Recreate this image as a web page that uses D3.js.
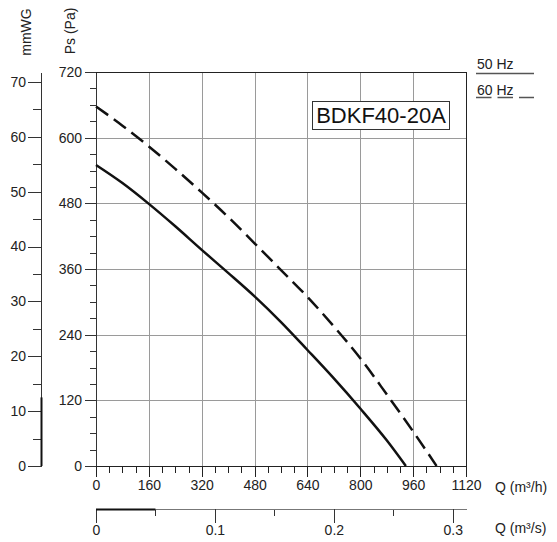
<!DOCTYPE html>
<html>
<head>
<meta charset="utf-8">
<script src="https://cdn.jsdelivr.net/npm/d3@7/dist/d3.min.js"></script>
<style>
  html, body { margin: 0; padding: 0; background: #fff; }
  svg { display: block; font-family: "Liberation Sans", Arial, sans-serif; }
  .tick text { font-family: "Liberation Sans", Arial, sans-serif; }
</style>
</head>
<body>
<svg id="chart" width="557" height="542"></svg>
<script>
// ---------- data ----------
const q50 = [0, 80, 160, 240, 320, 400, 480, 560, 640, 720, 800, 880, 938];
const p50 = [550, 517, 479, 438, 395, 353, 310, 263, 212, 160, 105, 47, 0];
const q60 = [0, 80, 160, 240, 320, 400, 480, 560, 640, 720, 800, 880, 960, 1031];
const p60 = [657, 622, 584, 543, 500, 455, 407, 358, 309, 255, 197, 131, 63, 0];
const qTicks = [0, 160, 320, 480, 640, 800, 960, 1120];
const paTicks = [0, 120, 240, 360, 480, 600, 720];
const mmTicks = [0, 10, 20, 30, 40, 50, 60, 70];
const qsTicks = [0, 0.1, 0.2, 0.3];
const qsMinor = [0.05, 0.15, 0.25];
const modelName = "BDKF40-20A";
const legendLabels = ["50 Hz", "60 Hz"];

// ---------- layout ----------
const svg = d3.select("#chart");
const X0 = 96, X1 = 466, Y0 = 466, Y1 = 72;
const x = d3.scaleLinear().domain([0, 1120]).range([X0, X1]);
const y = d3.scaleLinear().domain([0, 720]).range([Y0, Y1]);
const yMm = d3.scaleLinear().domain([0, 71.8]).range([Y0, Y1]);
const xs = d3.scaleLinear().domain([0, 1120 / 3600]).range([X0, X1]);
const FONT = 14;

// grid
const grid = svg.append("g").attr("shape-rendering", "crispEdges");
grid.selectAll("line.v").data(qTicks.filter(d => d > 0 && d < 1120)).join("line")
  .attr("x1", d => Math.round(x(d)) + 0.5).attr("x2", d => Math.round(x(d)) + 0.5)
  .attr("y1", Y1).attr("y2", Y0).attr("stroke", "#9a9a9a").attr("stroke-width", 1);
grid.selectAll("line.h").data(paTicks.filter(d => d > 0 && d < 720)).join("line")
  .attr("x1", X0).attr("x2", X1)
  .attr("y1", d => Math.round(y(d)) + 0.5).attr("y2", d => Math.round(y(d)) + 0.5)
  .attr("stroke", "#9a9a9a").attr("stroke-width", 1);
// frame top & right
grid.append("line").attr("x1", X0).attr("x2", Math.round(X1) + 0.5)
  .attr("y1", Y1 + 0.5).attr("y2", Y1 + 0.5).attr("stroke", "#222");
grid.append("line").attr("x1", X1 + 0.5).attr("x2", X1 + 0.5)
  .attr("y1", Y1).attr("y2", Y0).attr("stroke", "#222");

function styleAxis(g, color) {
  g.selectAll("path.domain").attr("stroke", color);
  g.selectAll(".tick line").attr("stroke", color);
  g.selectAll(".tick text").attr("fill", "#222").style("font-size", FONT + "px");
  g.attr("shape-rendering", "crispEdges");
}

// Pa axis (left)
const paMinor = d3.range(0, 721, 30).filter(d => d % 120 !== 0);
const gPaMinor = svg.append("g").attr("transform", `translate(${X0},0)`)
  .call(d3.axisLeft(y).tickValues(paMinor).tickSize(6).tickFormat(""));
gPaMinor.select("path.domain").remove();
styleAxis(gPaMinor, "#333");
const gPa = svg.append("g").attr("transform", `translate(${X0},0)`)
  .call(d3.axisLeft(y).tickValues(paTicks).tickSize(11).tickSizeOuter(0).tickPadding(3).tickFormat(d3.format("d")));
styleAxis(gPa, "#333");

// mmWG axis
const MX = 41;
const mmMinor = d3.range(5, 71, 10);
const gMmMinor = svg.append("g").attr("transform", `translate(${MX},0)`)
  .call(d3.axisLeft(yMm).tickValues(mmMinor).tickSize(8).tickFormat(""));
gMmMinor.select("path.domain").remove();
styleAxis(gMmMinor, "#333");
const gMm = svg.append("g").attr("transform", `translate(${MX},0)`)
  .call(d3.axisLeft(yMm).tickValues(mmTicks).tickSize(13).tickSizeOuter(0).tickPadding(2).tickFormat(d3.format("d")));
styleAxis(gMm, "#333");
svg.append("line").attr("x1", MX + 0.5).attr("x2", MX + 0.5)
  .attr("y1", yMm(12.5)).attr("y2", Y0).attr("stroke", "#111").attr("stroke-width", 2);

// Q m3/h axis
const qMinor = d3.range(0, 1121, 40).filter(d => d % 160 !== 0);
const gQMinor = svg.append("g").attr("transform", `translate(0,${Y0})`)
  .call(d3.axisBottom(x).tickValues(qMinor).tickSize(7).tickFormat(""));
gQMinor.select("path.domain").remove();
styleAxis(gQMinor, "#222");
const gQ = svg.append("g").attr("transform", `translate(0,${Y0})`)
  .call(d3.axisBottom(x).tickValues(qTicks).tickSize(11).tickSizeOuter(0).tickPadding(3).tickFormat(d3.format("d")));
styleAxis(gQ, "#222");

// Q m3/s axis
const QSY = 509;
const gQsMinor = svg.append("g").attr("transform", `translate(0,${QSY})`)
  .call(d3.axisBottom(xs).tickValues(qsMinor).tickSize(7).tickFormat(""));
gQsMinor.select("path.domain").remove();
styleAxis(gQsMinor, "#333");
const gQs = svg.append("g").attr("transform", `translate(0,${QSY})`)
  .call(d3.axisBottom(xs).tickValues(qsTicks).tickSize(14).tickSizeOuter(0).tickPadding(2).tickFormat(d => d === 0 ? "0" : d3.format(".1f")(d)));
styleAxis(gQs, "#333");
gQs.select("path.domain").attr("stroke", "#777");
svg.append("line").attr("x1", xs(0)).attr("x2", xs(0.05))
  .attr("y1", QSY + 0.5).attr("y2", QSY + 0.5).attr("stroke", "#111").attr("stroke-width", 2);

// axis titles
svg.append("text").attr("transform", "translate(31,32) rotate(-90)")
  .attr("text-anchor", "middle").style("font-size", "14px").attr("fill", "#222").text("mmWG");
svg.append("text").attr("transform", "translate(75,31) rotate(-90)")
  .attr("text-anchor", "middle").style("font-size", "14px").attr("fill", "#222").text("Ps (Pa)");
svg.append("text").attr("x", 495).attr("y", 492)
  .style("font-size", "14px").attr("fill", "#222").text("Q (m³/h)");
svg.append("text").attr("x", 495).attr("y", 533)
  .style("font-size", "14px").attr("fill", "#222").text("Q (m³/s)");

// curves
const line = d3.line().x(d => x(d[0])).y(d => y(d[1])).curve(d3.curveMonotoneX);
svg.append("path").datum(q60.map((q, i) => [q, p60[i]]))
  .attr("d", line).attr("fill", "none").attr("stroke", "#111")
  .attr("stroke-width", 2.5).attr("stroke-dasharray", "15,7");
svg.append("path").datum(q50.map((q, i) => [q, p50[i]]))
  .attr("d", line).attr("fill", "none").attr("stroke", "#111")
  .attr("stroke-width", 2.5);

// model box
const bx = 312, by = 101, bw = 137, bh = 28;
svg.append("rect").attr("x", bx + 0.5).attr("y", by + 0.5).attr("width", bw).attr("height", bh)
  .attr("fill", "#fff").attr("stroke", "#333").attr("stroke-width", 1);
svg.append("text").attr("x", bx + bw / 2 + 0.5).attr("y", by + bh / 2 + 8)
  .attr("text-anchor", "middle").style("font-size", "22px").attr("fill", "#111").text(modelName);

// legend
const LX = 476, LW = 58;
svg.append("text").attr("x", LX + 1).attr("y", 69).style("font-size", "14px").attr("fill", "#222").text(legendLabels[0]);
svg.append("line").attr("x1", LX).attr("x2", LX + LW).attr("y1", 73.5).attr("y2", 73.5)
  .attr("stroke", "#555").attr("stroke-width", 1.5);
svg.append("text").attr("x", LX + 1).attr("y", 95).style("font-size", "14px").attr("fill", "#222").text(legendLabels[1]);
svg.append("line").attr("x1", LX).attr("x2", LX + LW).attr("y1", 97.5).attr("y2", 97.5)
  .attr("stroke", "#555").attr("stroke-width", 1.5).attr("stroke-dasharray", "15.5,6");
</script>
</body>
</html>
